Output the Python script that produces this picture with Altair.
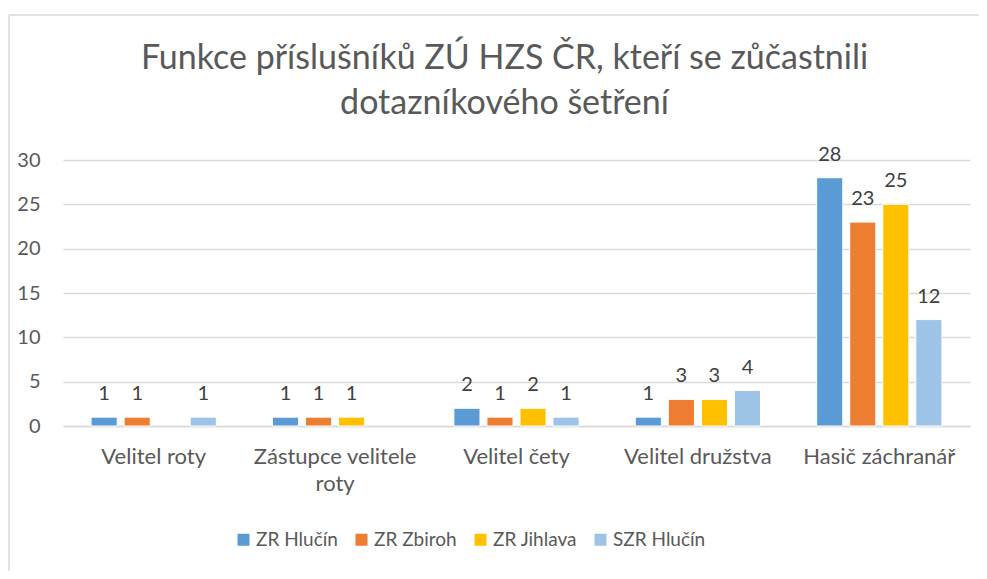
import altair as alt
import pandas as pd

categories = ["Velitel roty", "Zástupce velitele roty", "Velitel čety", "Velitel družstva", "Hasič záchranář"]
series = ["ZR Hlučín", "ZR Zbiroh", "ZR Jihlava", "SZR Hlučín"]
colors = ["#5B9BD5", "#ED7D31", "#FFC000", "#9DC3E6"]

zr_hlucin = [1, 1, 2, 1, 28]
zr_zbiroh = [1, 1, 1, 3, 23]
zr_jihlava = [None, 1, 2, 3, 25]
szr_hlucin = [1, None, 1, 4, 12]

rows = []
for s, vals in zip(series, [zr_hlucin, zr_zbiroh, zr_jihlava, szr_hlucin]):
    for c, v in zip(categories, vals):
        if v is not None:
            rows.append({"Funkce": c, "Útvar": s, "Počet": v})
df = pd.DataFrame(rows)

GREY = "#595959"
FONT = "Lato"

x = alt.X("Funkce:N", sort=categories, title=None,
          scale=alt.Scale(domain=categories, paddingInner=0, paddingOuter=0),
          axis=alt.Axis(labelAngle=0, labelFontSize=22, labelColor=GREY, labelPadding=20,
                        ticks=False, domainColor="#D9D9D9", domainWidth=1.5,
                        labelLineHeight=27,
                        labelExpr="datum.label == 'Zástupce velitele roty' ? ['Zástupce velitele', 'roty'] : datum.label"))
xo = alt.XOffset("Útvar:N", sort=series,
                 scale=alt.Scale(domain=series, paddingInner=0.21, paddingOuter=0.85))
y = alt.Y("Počet:Q", title=None,
          scale=alt.Scale(domain=[0, 30], nice=False),
          axis=alt.Axis(values=[0, 5, 10, 15, 20, 25, 30], labelFontSize=20, labelColor=GREY,
                        labelPadding=23, ticks=False, domain=False,
                        gridColor="#D9D9D9", gridWidth=1.5))
color = alt.Color("Útvar:N", sort=series, title=None,
                  scale=alt.Scale(domain=series, range=colors),
                  legend=alt.Legend(orient="none", direction="horizontal", legendX=171, legendY=370,
                                    symbolType="square", symbolSize=144, symbolStrokeWidth=0,
                                    labelFontSize=19, labelColor=GREY, labelOffset=3,
                                    columnPadding=14))

base = alt.Chart(df)
bars = base.mark_bar(stroke="white", strokeWidth=1).encode(x=x, xOffset=xo, y=y, color=color)
labels = base.mark_text(fontSize=20, color="#404040", dy=-17, baseline="alphabetic").encode(
    x=x, xOffset=xo, y=y, text="Počet:Q")

border_data = alt.Data(values=[{"b": 1}])
left_border = alt.Chart(border_data).mark_rule(color="#D9D9D9", strokeWidth=1.5).encode(
    x=alt.value(-54), y=alt.value(-145), y2=alt.value(420))
top_border = alt.Chart(border_data).mark_rule(color="#D9D9D9", strokeWidth=1.5).encode(
    x=alt.value(-54), x2=alt.value(916), y=alt.value(-145))

chart = alt.layer(bars, labels, left_border, top_border).properties(
    width=907, height=266,
    title=alt.TitleParams(
        text=["Funkce příslušníků ZÚ HZS ČR, kteří se zůčastnili", "dotazníkového šetření"],
        fontSize=34, font=FONT, fontWeight="normal", color=GREY, anchor="middle",
        frame="group", offset=-141, dx=-12, lineHeight=45, baseline="bottom"),
    autosize=alt.AutoSizeParams(type="none"),
    padding={"left": 55, "top": 152, "right": 9, "bottom": 145},
).configure(font=FONT).configure_view(stroke=None)

chart.save("out.html", embed_options={"renderer": "svg", "actions": False})
